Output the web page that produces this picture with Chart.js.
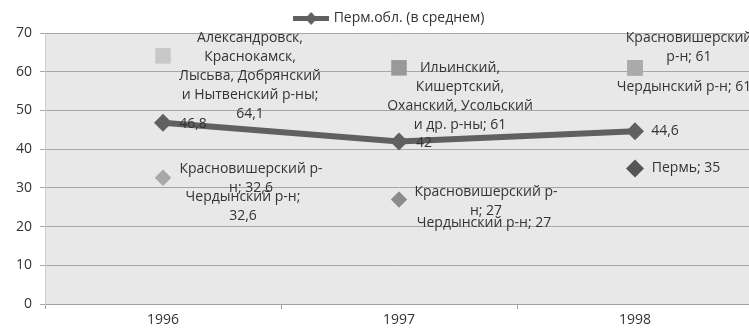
<!DOCTYPE html>
<html>
<head>
<meta charset="utf-8">
<script src="https://cdn.jsdelivr.net/npm/chart.js@4/dist/chart.umd.min.js"></script>
<style>
  html, body { margin: 0; padding: 0; background: #fff; overflow: hidden; }
</style>
</head>
<body>
<canvas id="c" width="753" height="329"></canvas>
<script>
const years = ["1996", "1997", "1998"];
const yTicks = [0, 10, 20, 30, 40, 50, 60, 70];

// Перм.обл. (в среднем)
const permAvg = [46.8, 42, 44.6];
const permAvgText = [["46,8"], ["42"], ["44,6"]];

// районы с высокими значениями
const bigTowns = [64.1, null, null];
const bigTownsText = [["Александровск,", "Краснокамск,", "Лысьва, Добрянский", "и Нытвенский р-ны;", "64,1"], null, null];

const otherDistricts = [null, 61, null];
const otherDistrictsText = [null, ["Ильинский,", "Кишертский,", "Оханский, Усольский", "и др. р-ны; 61"], null];

const krasnovHigh = [null, null, 61];
const krasnovHighText = [null, null, ["Красновишерский", "р-н; 61"]];
const cherdynHigh = [null, null, 61];
const cherdynHighText = [null, null, ["Чердынский р-н; 61"]];

// районы с низкими значениями
const krasnovLow = [32.6, 27, null];
const krasnovLowText = [["Красновишерский р-", "н; 32,6"], ["Красновишерский р-", "н; 27"], null];
const cherdynLow = [32.6, 27, null];
const cherdynLowText = [["Чердынский р-н;", "32,6"], ["Чердынский р-н; 27"], null];

const permCity = [null, null, 35];
const permCityText = [null, null, ["Пермь; 35"]];

const FONT = "'Open Sans', sans-serif";
const TEXT = "#333333";
const LINE = "#606060";

// смещение первой строки подписи от точки, px
const labelPlace = {
  permAvg: [[30, 1], [25, 2], [30, 0]],
  bigTowns: [[87, -18]],
  otherDistricts: [null, [61, 0]],
  krasnovHigh: [null, null, [54, -30]],
  cherdynHigh: [null, null, [49, 19]],
  krasnovLow: [[88, -9], [87, -7]],
  cherdynLow: [[80, 19], [85, 24]],
  permCity: [null, null, [51, 0]],
};

const pointLabels = {
  id: "pointLabels",
  afterDatasetsDraw(chart) {
    const ctx = chart.ctx;
    ctx.save();
    ctx.font = "14px " + FONT;
    ctx.fillStyle = TEXT;
    ctx.textAlign = "center";
    ctx.textBaseline = "middle";
    chart.data.datasets.forEach((ds, di) => {
      const meta = chart.getDatasetMeta(di);
      ds.texts.forEach((lines, i) => {
        const off = (labelPlace[ds.key] || [])[i];
        if (!lines || !off) return;
        const pt = meta.data[i];
        lines.forEach((line, k) => {
          ctx.fillText(line, pt.x + off[0], pt.y + off[1] + k * 19);
        });
      });
    });
    ctx.restore();
  },
};

const plotBg = {
  id: "plotBg",
  afterLayout(chart) {
    // легенда немного левее центра области построения и ниже
    chart.legend.left -= 9;
    chart.legend.right -= 9;
    chart.legend.top += 2;
    chart.legend.bottom += 2;
  },
  beforeDraw(chart) {
    const a = chart.chartArea;
    chart.ctx.save();
    chart.ctx.fillStyle = "#e8e8e8";
    chart.ctx.fillRect(a.left, a.top, a.right - a.left, a.bottom - a.top);
    chart.ctx.restore();
  },
};

// значок легенды: линия с ромбом
const legendIcon = document.createElement("canvas");
legendIcon.width = 36;
legendIcon.height = 14;
(() => {
  const g = legendIcon.getContext("2d");
  g.fillStyle = LINE;
  g.fillRect(0, 5, 36, 5);
  g.beginPath();
  g.moveTo(18, 1); g.lineTo(24, 7.5); g.lineTo(18, 14); g.lineTo(12, 7.5);
  g.closePath();
  g.fill();
})();

function marks(key, data, texts, style, color, radius) {
  return {
    key, texts,
    label: key,
    data,
    showLine: false,
    pointStyle: style,
    pointRadius: radius,
    pointHoverRadius: radius,
    pointBorderWidth: 0,
    pointBackgroundColor: color,
    pointBorderColor: color,
    borderColor: color,
    backgroundColor: color,
  };
}

new Chart(document.getElementById("c"), {
  type: "line",
  data: {
    labels: years,
    datasets: [
      {
        key: "permAvg", texts: permAvgText,
        label: "Перм.обл. (в среднем)",
        data: permAvg,
        borderColor: LINE,
        backgroundColor: LINE,
        borderWidth: 6,
        pointStyle: "rectRot",
        pointRadius: 9,
        pointBorderWidth: 0,
        pointBackgroundColor: LINE,
        pointBorderColor: LINE,
        tension: 0,
      },
      marks("bigTowns", bigTowns, bigTownsText, "rect", "#c8c8c8", 11),
      marks("otherDistricts", otherDistricts, otherDistrictsText, "rect", "#999999", 11),
      marks("krasnovHigh", krasnovHigh, krasnovHighText, "rect", "#aaaaaa", 11),
      marks("cherdynHigh", cherdynHigh, cherdynHighText, "rect", "#aaaaaa", 11),
      marks("krasnovLow", krasnovLow, krasnovLowText, "rectRot", ["#a8a8a8", "#8c8c8c"], 8),
      marks("cherdynLow", cherdynLow, cherdynLowText, "rectRot", ["#a8a8a8", "#8c8c8c"], 8),
      marks("permCity", permCity, permCityText, "rectRot", "#555555", 9),
    ],
  },
  options: {
    responsive: false,
    animation: false,
    layout: { autoPadding: false, padding: { top: 7, right: 0, bottom: 0, left: 0 } },
    plugins: {
      legend: {
        display: true,
        position: "top",
        fullSize: false,
        labels: {
          filter: (item) => item.datasetIndex === 0,
          usePointStyle: true,
          pointStyle: legendIcon,
          pointStyleWidth: 31,
          color: TEXT,
          font: { family: FONT, size: 14 },
          padding: 2,
        },
      },
      tooltip: { enabled: false },
    },
    scales: {
      x: {
        offset: true,
        grid: { offset: true, drawOnChartArea: false, drawTicks: true, tickLength: 5, color: "#a0a0a0" },
        border: { display: true, color: "#a0a0a0" },
        ticks: { color: TEXT, font: { family: FONT, size: 14 }, padding: 3 },
        afterFit: (s) => { s.height = 25; },
      },
      y: {
        min: 0,
        max: 70,
        afterBuildTicks: (s) => { s.ticks = yTicks.map((v) => ({ value: v })); },
        grid: { color: "#a6a6a6", tickLength: 5 },
        border: { display: true, color: "#cfcfcf" },
        ticks: { color: TEXT, font: { family: FONT, size: 14 }, padding: 8 },
        afterFit: (s) => { s.width = 45; },
      },
    },
  },
  plugins: [plotBg, pointLabels],
});
</script>
</body>
</html>
